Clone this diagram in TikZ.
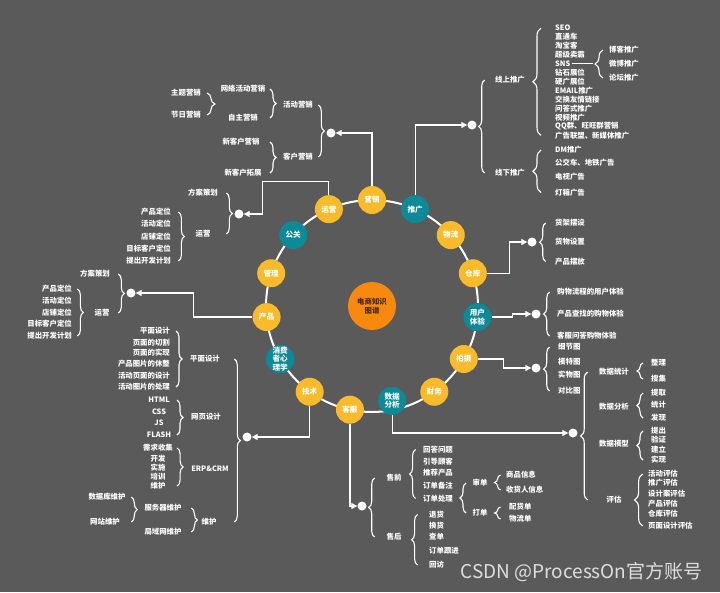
\documentclass[tikz,border=0pt]{standalone}
\usepackage{fontspec}
\setmainfont{Noto Sans CJK SC}
\usetikzlibrary{arrows.meta,calc,decorations.pathreplacing}
\definecolor{bg}{HTML}{5A5A5A}
\definecolor{ylw}{HTML}{F9BA2C}
\definecolor{tl}{HTML}{0D8A97}
\definecolor{org}{HTML}{F7890F}
\definecolor{brn}{HTML}{4A2A00}
\tikzset{
  txt/.style={text=white, font=\bfseries\fontsize{7.4}{8}\selectfont, inner sep=1pt},
  lt/.style={txt, anchor=west},
  rt/.style={txt, anchor=east},
  dot/.style={circle, fill=white, inner sep=0pt, minimum size=9pt},
  ln/.style={white, line width=1.2pt},
  cnx/.style={ln, -{Triangle[length=6pt,width=6pt]}},
  brcL/.style={white, line width=1.1pt, decorate, decoration={brace, mirror, amplitude=#1}},
  brcL/.default=6pt,
  brcR/.style={white, line width=1.1pt, decorate, decoration={brace, amplitude=#1}},
  brcR/.default=6pt,
  hub/.style={circle, minimum size=28pt, inner sep=0pt, text=white, align=center,
    font=\bfseries\fontsize{7.6}{8.4}\selectfont},
}

\begin{document}
\begin{tikzpicture}[x=1pt, y=-1pt]
  \fill[bg] (0,0) rectangle (720,592);
  \useasboundingbox (0,0) rectangle (720,592);

  % ring
  \coordinate (ctr) at (372,306);
  \draw[white, line width=2pt] (ctr) circle[radius=106pt];
  \node[circle, fill=org, minimum size=48pt, inner sep=0pt, align=center, text=brn,
    font=\bfseries\fontsize{7.4}{9}\selectfont] (hub0) at (ctr) {电商知识\\图谱};
  \foreach \i/\n/\t/\c/\r in {0/yx/营销/ylw/106, 1/tg/推广/tl/106, 2/wl/物流/ylw/106,
      3/ck/仓库/ylw/106, 4/yh/用户\\体验/tl/106, 5/ps/拍摄/ylw/106, 6/cwu/财务/ylw/106,
      7/sjfx/数据\\分析/tl/97, 8/kf/客服/ylw/106, 9/js/技术/ylw/106,
      10/xf/消费\\者心\\理学/tl/106, 11/cp/产品/ylw/106, 12/gl/管理/ylw/106,
      13/gg/公关/tl/106, 14/yy/运营/ylw/106}
    \node[hub, fill=\c] (\n) at ($(ctr)+({24*\i-90}:\r)$) {\t};

  % 推广
  \node[dot] (dtg) at (472,125) {};
  \draw[cnx] (tg) |- (dtg);
  \node[txt] (xstg) at (510,80) {线上推广};
  \node[txt] (xxtg) at (510,173) {线下推广};
  \draw[brcL] ([xshift=8pt]dtg.east |- xstg) -- ([xshift=8pt]dtg.east |- xxtg);
  \foreach \t [count=\i] in {SEO,直通车,淘宝客,超级卖霸,SNS,钻石展位,硬广展位,EMAIL推广,
      交换友情链接,问答式推广,视频推广,QQ群、旺旺群营销,广告联盟、新媒体推广}
    \node[lt] (xs\i) at (554,{19.1+8.95*\i}) {\t};
  \draw[brcL=8pt] ([xshift=15pt]xstg.east |- xs1) -- ([xshift=15pt]xstg.east |- xs13);
  \foreach \t/\y [count=\i] in {博客推广/50,微博推广/64,论坛推广/78}
    \node[lt] (sns\i) at (608,\y) {\t};
  \draw[ln] (xs5.east) -- ++(21,0);
  \draw[brcL=8pt] ([xshift=-5pt]sns1.west |- sns1) -- ([xshift=-5pt]sns1.west |- sns3);
  \foreach \t/\y [count=\i] in {DM推广/150,公交车、地铁广告/162.5,电视广告/176.5,灯箱广告/192.5}
    \node[lt] (xx\i) at (554,\y) {\t};
  \draw[brcL=8pt] ([xshift=15pt]xxtg.east |- xx1) -- ([xshift=15pt]xxtg.east |- xx4);

  % 营销
  \node[dot] (dyx) at (331,133) {};
  \draw[cnx] (yx) |- (dyx);
  \node[rt] (hdyx) at (314,105) {活动营销};
  \node[rt] (khyx) at (314,157) {客户营销};
  \draw[brcR] ([xshift=-8pt]dyx.west |- hdyx) -- ([xshift=-8pt]dyx.west |- khyx);
  \node[txt] (wlhd) at (243,89) {网络活动营销};
  \node[txt] (zzyx) at (243,118) {自主营销};
  \draw[brcR] ([xshift=-12pt]hdyx.west |- wlhd) -- ([xshift=-12pt]hdyx.west |- zzyx);
  \node[txt] (ztyx) at (186,93) {主题营销};
  \node[txt] (jryx) at (186,115) {节日营销};
  \draw[brcR=8pt] ([xshift=5pt]ztyx.east |- ztyx) -- ([xshift=5pt]ztyx.east |- jryx);
  \node[txt] (xkyx) at (241,142) {新客户营销};
  \node[txt] (xktz) at (243,173) {新客户拓展};
  \draw[brcR] ([xshift=-12pt]khyx.west |- xkyx) -- ([xshift=-12pt]khyx.west |- xktz);

  % 运营
  \node[dot] (dyy) at (239,214) {};
  \draw[cnx] (yy) |- ++(-66,-28) |- (dyy);
  \node[txt] (fach1) at (203,193) {方案策划};
  \node[txt] (yyy) at (203,234) {运营};
  \draw[brcR] ([xshift=-8pt]dyy.west |- fach1) -- ([xshift=-8pt]dyy.west |- yyy);
  \foreach \t/\y [count=\i] in {产品定位/212,活动定位/224,店铺定位/236.5,目标客户定位/248.5,提出开发计划/261}
    \node[rt] (yw\i) at (172,\y) {\t};
  \draw[brcR] ([xshift=-16pt]yyy.west |- yw1) -- ([xshift=-16pt]yyy.west |- yw5);

  % 产品
  \node[dot] (dcp) at (131,293) {};
  \draw[cnx] (cp) -- ++(-73,0) |- (dcp);
  \node[txt] (fach2) at (95,274) {方案策划};
  \node[txt] (yyc) at (102,313) {运营};
  \draw[brcR] ([xshift=-8pt]dcp.west |- fach2) -- ([xshift=-8pt]dcp.west |- yyc);
  \foreach \t/\y [count=\i] in {产品定位/289,活动定位/300.5,店铺定位/312.5,目标客户定位/324,提出开发计划/336}
    \node[rt] (cpdw\i) at (73,\y) {\t};
  \draw[brcR] ([xshift=-16pt]yyc.west |- cpdw1) -- ([xshift=-16pt]yyc.west |- cpdw5);

  % 技术
  \node[dot] (djs) at (247,437) {};
  \draw[cnx] (js) |- (djs);
  \node[txt] (pmsj) at (205,359) {平面设计};
  \node[txt] (wysj) at (206,417) {网页设计};
  \node[txt] (erp) at (210,469) {ERP\&CRM};
  \node[txt] (jswh) at (209,522) {维护};
  \draw[brcR] ([xshift=-8pt]djs.west |- pmsj) -- ([xshift=-8pt]djs.west |- jswh);
  \foreach \t/\y [count=\i] in {平面设计/331,页面的切割/342.5,页面的实现/352.5,产品图片的休整/364,
      活动页面的设计/375.5,活动图片的处理/387}
    \node[rt] (pm\i) at (171,\y) {\t};
  \draw[brcR] ([xshift=-13pt]pmsj.west |- pm1) -- ([xshift=-13pt]pmsj.west |- pm6);
  \foreach \t/\y [count=\i] in {HTML/400,CSS/412,JS/423,FLASH/435}
    \node[txt] (wy\i) at (159,\y) {\t};
  \draw[brcR] ([xshift=-13pt]wysj.west |- wy1) -- ([xshift=-13pt]wysj.west |- wy4);
  \foreach \t/\y [count=\i] in {需求收集/448,开发/458.5,实施/467.5,培训/476.5,维护/486}
    \node[txt] (ep\i) at (158,\y) {\t};
  \draw[brcR] ([xshift=-13pt]erp.west |- ep1) -- ([xshift=-13pt]erp.west |- ep5);
  \node[txt] (fwq) at (163,508) {服务器维护};
  \node[txt] (jyw) at (163,532) {局域网维护};
  \draw[brcR] ([xshift=-9pt]jswh.west |- fwq) -- ([xshift=-9pt]jswh.west |- jyw);
  \node[txt] (sjk) at (107,497) {数据库维护};
  \node[txt] (wzwh) at (105,522) {网站维护};
  \draw[brcR] ([xshift=-12pt]fwq.west |- sjk) -- ([xshift=-12pt]fwq.west |- wzwh);

  % 客服
  \node[dot] (dkf) at (362,506) {};
  \draw[cnx] (kf) |- (dkf);
  \node[txt] (sq) at (394,478) {售前};
  \node[txt] (sh) at (394,537) {售后};
  \draw[brcL] ([xshift=8pt]dkf.east |- sq) -- ([xshift=8pt]dkf.east |- sh);
  \foreach \t/\y [count=\i] in {回答问题/449.5,引导顾客/461.5,推荐产品/473,订单备注/486,订单处理/498.5}
    \node[lt] (sqq\i) at (422,\y) {\t};
  \draw[brcL] ([xshift=13pt]sq.east |- sqq1) -- ([xshift=13pt]sq.east |- sqq5);
  \node[txt] (shd) at (480,483) {审单};
  \node[txt] (dyd) at (480,513) {打单};
  \draw[brcL] ([xshift=12pt]sqq5.east |- shd) -- ([xshift=12pt]sqq5.east |- dyd);
  \node[lt] (spxx) at (505,475) {商品信息};
  \node[lt] (shr) at (505,490) {收货人信息};
  \draw[brcL] ([xshift=12pt]shd.east |- spxx) -- ([xshift=12pt]shd.east |- shr);
  \node[lt] (phd) at (508,507) {配货单};
  \node[lt] (wld) at (508,519) {物流单};
  \draw[brcL] ([xshift=12pt]dyd.east |- phd) -- ([xshift=12pt]dyd.east |- wld);
  \foreach \t/\y [count=\i] in {退货/514.5,换货/526,查单/537,订单跟进/551,回访/565}
    \node[lt] (shh\i) at (428,\y) {\t};
  \draw[brcL] ([xshift=15pt]sh.east |- shh1) -- ([xshift=15pt]sh.east |- shh5);

  % 数据分析
  \node[dot] (dsj) at (573,433) {};
  \draw[cnx] (sjfx) |- (dsj);
  \node[txt] (sjtj) at (614,372) {数据统计};
  \node[txt] (sjfx2) at (614,407) {数据分析};
  \node[txt] (sjmx) at (614,444) {数据模型};
  \node[txt] (pg) at (614,500) {评估};
  \draw[brcL=7pt] ([xshift=10pt]dsj.east |- sjtj) -- ([xshift=10pt]dsj.east |- pg);
  \foreach \t/\y [count=\i] in {整理/363,搜集/379}
    \node[lt] (zl\i) at (650,\y) {\t};
  \draw[brcL] ([xshift=13pt]sjtj.east |- zl1) -- ([xshift=13pt]sjtj.east |- zl2);
  \foreach \t/\y [count=\i] in {提取/393,统计/404.5,发现/418}
    \node[lt] (fx\i) at (650,\y) {\t};
  \draw[brcL] ([xshift=13pt]sjfx2.east |- fx1) -- ([xshift=13pt]sjfx2.east |- fx3);
  \foreach \t/\y [count=\i] in {提出/431,验证/440,建立/450,实现/460}
    \node[lt] (mx\i) at (650,\y) {\t};
  \draw[brcL] ([xshift=13pt]sjmx.east |- mx1) -- ([xshift=13pt]sjmx.east |- mx4);
  \foreach \t/\y [count=\i] in {活动评估/474,推广评估/483,设计案评估/493.5,产品评估/504,仓库评估/514,页面设计评估/526}
    \node[lt] (pgg\i) at (647,\y) {\t};
  \draw[brcL=8pt] ([xshift=20pt]pg.east |- pgg1) -- ([xshift=20pt]pg.east |- pgg6);

  % 仓库
  \node[dot] (dck) at (532,242) {};
  \draw[cnx] (ck) -- ++(37,0) |- (dck);
  \foreach \t/\y [count=\i] in {货架摆设/223,货物设置/242,产品摆放/261.5}
    \node[lt] (ckk\i) at (554,\y) {\t};
  \draw[brcL] ([xshift=9pt]dck.east |- ckk1) -- ([xshift=9pt]dck.east |- ckk3);

  % 用户体验
  \node[dot] (dyh) at (536,314) {};
  \draw[cnx] (yh) -- ++(35,0) |- (dyh);
  \foreach \t/\y [count=\i] in {购物流程的用户体验/292,产品查找的购物体验/314,客服问答购物体验/336}
    \node[lt] (yhh\i) at (556,\y) {\t};
  \draw[brcL] ([xshift=9pt]dyh.east |- yhh1) -- ([xshift=9pt]dyh.east |- yhh3);

  % 拍摄
  \node[dot] (dps) at (536,368) {};
  \draw[cnx] (ps) -- ++(40,0) |- (dps);
  \foreach \t/\y [count=\i] in {细节图/347,模特图/362,实物图/375,对比图/391}
    \node[lt] (pss\i) at (557,\y) {\t};
  \draw[brcL] ([xshift=9pt]dps.east |- pss1) -- ([xshift=9pt]dps.east |- pss4);

  \node[anchor=east, text=white!80!bg, font=\fontsize{19}{22}\selectfont] (wmk) at (706,572) {CSDN @ProcessOn官方账号};
\end{tikzpicture}
\end{document}
